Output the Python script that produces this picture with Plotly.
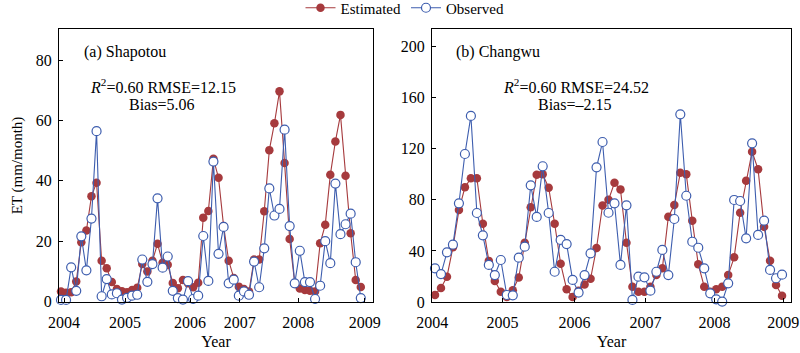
import plotly.graph_objects as go

# ---------------- data ----------------
year_labels = ["2004", "2005", "2006", "2007", "2008", "2009"]

# (a) Shapotou, monthly ET (mm/month)
sha_obs = [0.5, 0.5, 11.3, 3.5, 21.6, 10.3, 27.5, 56.5, 1.7, 7.4, 2.3, 2.7,
           0.6, 1.2, 1.9, 2.2, 13.9, 6.5, 12.4, 34.2, 11.2, 14.9, 3.5, 1.1,
           0.6, 6.7, 0.8, 1.9, 21.7, 6.8, 46.4, 15.8, 24.7, 6.0, 7.2, 1.9,
           3.3, 2.2, 13.2, 4.7, 17.6, 37.5, 28.5, 30.7, 57.0, 25.0, 6.0, 16.8,
           6.4, 6.4, 0.8, 5.2, 20.0, 12.7, 39.1, 22.3, 25.6, 29.1, 13.0, 1.1]
sha_est = [3.3, 2.9, 3.0, 6.6, 19.6, 23.5, 34.9, 39.4, 13.5, 11.0, 6.4, 4.1,
           3.4, 3.0, 3.8, 4.5, 12.4, 9.9, 13.5, 19.1, 12.8, 12.2, 6.1, 4.4,
           7.1, 6.0, 4.7, 6.2, 27.8, 30.0, 47.3, 41.0, 25.0, 13.5, 7.8, 4.9,
           4.1, 3.3, 13.9, 13.9, 29.9, 50.2, 59.1, 69.7, 45.9, 20.7, 6.0, 4.3,
           3.8, 3.5, 3.3, 19.3, 25.4, 42.0, 53.1, 61.9, 41.7, 22.6, 7.1, 4.8]

# (b) Changwu, monthly ET (mm/month)
cha_obs = [26.4, 21.9, 38.9, 44.9, 77.3, 115.9, 145.7, 69.7, 52.2, 29.0, 21.1, 32.9,
           5.5, 5.2, 34.7, 43.3, 91.4, 66.6, 106.3, 69.7, 23.7, 48.6, 45.4, 17.3,
           7.4, 21.1, 38.1, 105.5, 125.3, 69.9, 77.3, 29.0, 75.7, 1.6, 19.8, 19.3,
           8.9, 23.7, 40.8, 21.1, 65.0, 147.0, 83.2, 47.2, 42.5, 26.4, 6.8, 2.1,
           0.3, 14.6, 79.9, 79.1, 49.9, 124.3, 52.5, 63.7, 25.1, 18.6, 21.4]
cha_est = [5.5, 11.0, 19.8, 42.8, 72.0, 89.8, 96.9, 96.9, 61.3, 32.2, 16.5, 8.1,
           4.0, 9.2, 19.1, 46.4, 74.2, 99.7, 100.0, 89.5, 61.3, 30.0, 10.0, 4.0,
           8.9, 13.7, 18.2, 42.3, 75.6, 80.0, 93.4, 88.2, 46.4, 12.0, 8.1, 8.1,
           12.0, 21.1, 26.4, 66.8, 76.0, 101.3, 100.0, 63.7, 29.5, 12.0, 8.1, 9.9,
           12.0, 21.1, 35.0, 69.9, 95.0, 117.7, 103.9, 59.0, 32.3, 13.3, 4.9]

sha_month = list(range(len(sha_obs)))
cha_month = list(range(len(cha_obs)))

# year tick positions (in month-index units) as drawn in the original
sha_tickpos = [0.6, 12.6, 25.4, 35.2, 46.7, 59.8]
cha_tickpos = [-0.45, 11.3, 23.3, 35.2, 46.7, 58.2]

# ---------------- style ----------------
RED = "#A63A3D"
BLUE = "#3D5DAE"
FONT = "Liberation Serif"

fig = go.Figure()

def add_panel(xv, est, obs, xa, ya, show):
    fig.add_trace(go.Scatter(
        x=xv, y=est, mode="lines+markers", name="Estimated",
        line=dict(color=RED, width=1.1),
        marker=dict(color=RED, size=8.5, line=dict(width=0)),
        xaxis=xa, yaxis=ya, showlegend=show, cliponaxis=False))
    fig.add_trace(go.Scatter(
        x=xv, y=obs, mode="lines+markers", name="Observed",
        line=dict(color=BLUE, width=1.1),
        marker=dict(color="white", size=9, line=dict(color=BLUE, width=1.2)),
        xaxis=xa, yaxis=ya, showlegend=show, cliponaxis=False))

add_panel(sha_month, sha_est, sha_obs, "x", "y", True)
add_panel(cha_month, cha_est, cha_obs, "x2", "y2", False)

W, H = 800, 353
ML, MR, MT, MB = 59, 9, 29, 51
pw = W - ML - MR
ph = H - MT - MB

def px(xp):
    return (xp - ML) / pw

def py(yp):
    return (H - MB - yp) / ph

axis_common = dict(showline=True, linecolor="black", linewidth=1, mirror=True,
                   ticks="inside", ticklen=4, tickcolor="black", showgrid=False,
                   zeroline=False, automargin=False,
                   tickfont=dict(family=FONT, size=16, color="black"))

xtitle = dict(text="Year", font=dict(family=FONT, size=16), standoff=5)

fig.update_layout(
    width=W, height=H,
    margin=dict(l=ML, r=MR, t=MT, b=MB, autoexpand=False),
    paper_bgcolor="white", plot_bgcolor="white",
    font=dict(family=FONT, size=15, color="black"),
    xaxis=dict(domain=[0, px(373)], range=[-0.39, 61.4],
               tickmode="array", tickvals=sha_tickpos, ticktext=year_labels,
               ticklabelstandoff=6, title=xtitle, **axis_common),
    yaxis=dict(domain=[0, 1], range=[-0.2, 90.4], tickvals=[0, 20, 40, 60, 80],
               ticklabelstandoff=3,
               title=dict(text="ET (mm/month)", font=dict(family=FONT, size=15), standoff=9),
               **axis_common),
    xaxis2=dict(domain=[px(432), 1], range=[-0.5, 59.5], anchor="y2",
                tickmode="array", tickvals=cha_tickpos, ticktext=year_labels,
                ticklabelstandoff=6, title=xtitle, **axis_common),
    yaxis2=dict(domain=[0, 1], range=[0, 213.8], anchor="x2",
                tickvals=[0, 40, 80, 120, 160, 200], ticklabelstandoff=3, **axis_common),
    legend=dict(orientation="h", x=px(405), xanchor="center", y=py(8), yanchor="middle",
                font=dict(family=FONT, size=15), bgcolor="rgba(0,0,0,0)",
                itemwidth=30, tracegroupgap=0),
)

ann_font = dict(family=FONT, size=16, color="black")
anns = [
    dict(text="(a) Shapotou", x=px(82), y=py(52), xanchor="left"),
    dict(text="<i>R</i><sup>2</sup>=0.60 RMSE=12.15", x=px(163), y=py(86), xanchor="center"),
    dict(text="Bias=5.06", x=px(161), y=py(104), xanchor="center"),
    dict(text="(b) Changwu", x=px(454), y=py(52), xanchor="left"),
    dict(text="<i>R</i><sup>2</sup>=0.60 RMSE=24.52", x=px(576), y=py(86), xanchor="center"),
    dict(text="Bias=\u20132.15", x=px(574), y=py(104), xanchor="center"),
]
for a in anns:
    fig.add_annotation(xref="paper", yref="paper", yanchor="middle", showarrow=False,
                       font=ann_font, **a)

fig.write_html("out.html")
